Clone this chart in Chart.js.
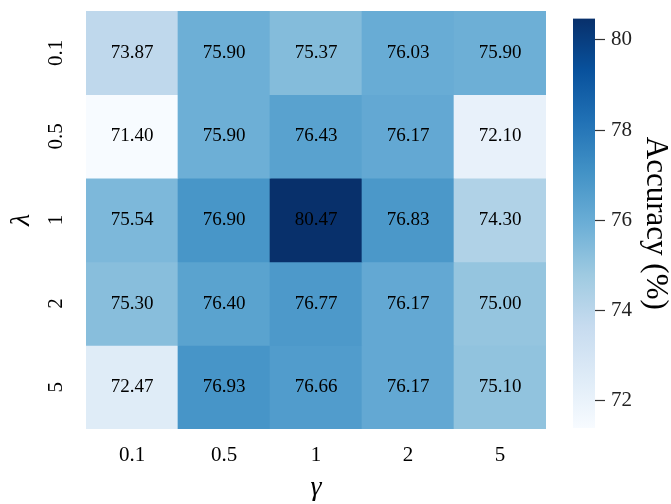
<!DOCTYPE html>
<html>
<head>
<meta charset="utf-8">
<script src="https://cdn.jsdelivr.net/npm/chart.js@4.4.0/dist/chart.umd.min.js"></script>
<style>
  html, body { margin: 0; padding: 0; background: #fff; }
  #wrap { position: relative; width: 671px; height: 504px; }
  #main { position: absolute; left: 0; top: 0; }
  #cbar { position: absolute; left: 540px; top: 0; }
</style>
</head>
<body>
<div id="wrap">
  <div id="main"><canvas id="heat" width="671" height="504"></canvas></div>
  <div id="cbar"><canvas id="bar" width="131" height="504"></canvas></div>
</div>
<script>
// columns (gamma) and rows (lambda)
const gammaLabels = ["0.1", "0.5", "1", "2", "5"];
const lambdaLabels = ["0.1", "0.5", "1", "2", "5"];

// accuracy per lambda row, left to right over gamma
const accLambda01 = [73.87, 75.90, 75.37, 76.03, 75.90];
const accLambda05 = [71.40, 75.90, 76.43, 76.17, 72.10];
const accLambda1 = [75.54, 76.90, 80.47, 76.83, 74.30];
const accLambda2 = [75.30, 76.40, 76.77, 76.17, 75.00];
const accLambda5 = [72.47, 76.93, 76.66, 76.17, 75.10];
const accRows = [accLambda01, accLambda05, accLambda1, accLambda2, accLambda5];

const colorbarTicks = [72, 74, 76, 78, 80];

const SERIF = "'Liberation Serif', 'Times New Roman', serif";
const blues = ["#f7fbff", "#deebf7", "#c6dbef", "#9ecae1", "#6baed6", "#4292c6", "#2171b5", "#08519c", "#08306b"];

const allVals = accRows.flat();
const vmin = Math.min(...allVals);
const vmax = Math.max(...allVals);

function hexRgb(h) {
  return [1, 3, 5].map(i => parseInt(h.slice(i, i + 2), 16));
}

// matplotlib "Blues" as a linear interpolation of its 9 anchors
function bluesColor(v) {
  let t = (v - vmin) / (vmax - vmin);
  t = Math.max(0, Math.min(1, t)) * (blues.length - 1);
  const i = Math.min(Math.floor(t), blues.length - 2);
  const f = t - i;
  const a = hexRgb(blues[i]), b = hexRgb(blues[i + 1]);
  const c = a.map((x, k) => Math.round(x + (b[k] - x) * f));
  return `rgb(${c[0]},${c[1]},${c[2]})`;
}

const cellText = {
  id: "cellText",
  afterDatasetsDraw(chart) {
    const ctx = chart.ctx;
    ctx.save();
    ctx.font = `19px ${SERIF}`;
    ctx.fillStyle = "#000";
    ctx.textAlign = "center";
    ctx.textBaseline = "middle";
    chart.data.datasets.forEach((ds, r) => {
      chart.getDatasetMeta(r).data.forEach((bar, c) => {
        ctx.fillText(ds.acc[c].toFixed(2), bar.x, (bar.y + bar.base) / 2);
      });
    });
    ctx.restore();
  }
};

// rotated lambda tick labels
const yLabels = {
  id: "yLabels",
  afterDraw(chart) {
    const ctx = chart.ctx;
    const ys = chart.scales.y;
    ctx.save();
    ctx.font = `21px ${SERIF}`;
    ctx.fillStyle = "#000";
    ctx.textAlign = "center";
    ctx.textBaseline = "middle";
    lambdaLabels.forEach((t, i) => {
      ctx.save();
      ctx.translate(chart.chartArea.left - 30, ys.getPixelForValue(i));
      ctx.rotate(-Math.PI / 2);
      ctx.fillText(t, 0, 0);
      ctx.restore();
    });
    ctx.restore();
  }
};

new Chart(document.getElementById("heat"), {
  type: "bar",
  data: {
    labels: gammaLabels,
    datasets: accRows.map((row, r) => ({
      label: lambdaLabels[r],
      acc: row,
      data: row.map(() => [r - 0.5, r + 0.5]),
      backgroundColor: row.map(bluesColor),
      borderWidth: 0,
      grouped: false,
      barPercentage: 1,
      categoryPercentage: 1
    }))
  },
  options: {
    responsive: false,
    animation: false,
    layout: { padding: { top: 11, right: 125, bottom: 0, left: 0 } },
    plugins: { legend: { display: false }, tooltip: { enabled: false } },
    scales: {
      x: {
        afterFit(s) { s.height = 75; },
        grid: { display: false, drawTicks: false },
        border: { display: false },
        ticks: { color: "#000", padding: 14, font: { family: SERIF, size: 21 } },
        title: {
          display: true,
          text: "γ",
          color: "#000",
          padding: { top: 0, bottom: 2 },
          font: { family: SERIF, size: 28, style: "italic", lineHeight: 1 }
        }
      },
      y: {
        min: -0.5,
        max: 4.5,
        reverse: true,
        afterFit(s) { s.width = 86; },
        grid: { display: false, drawTicks: false },
        border: { display: false },
        ticks: { display: false },
        title: {
          display: true,
          text: "λ",
          color: "#000",
          padding: { top: 8, bottom: 0 },
          font: { family: SERIF, size: 28, style: "italic", lineHeight: 1 }
        }
      }
    }
  },
  plugins: [cellText, yLabels]
});

// colorbar
new Chart(document.getElementById("bar"), {
  type: "bar",
  data: {
    labels: [""],
    datasets: [{
      data: [[vmin, vmax]],
      borderWidth: 0,
      barPercentage: 1,
      categoryPercentage: 1,
      backgroundColor(ctx) {
        const ca = ctx.chart.chartArea;
        if (!ca) return blues[4];
        const g = ctx.chart.ctx.createLinearGradient(0, ca.bottom, 0, ca.top);
        blues.forEach((c, i) => g.addColorStop(i / (blues.length - 1), c));
        return g;
      }
    }]
  },
  options: {
    responsive: false,
    animation: false,
    layout: { padding: { top: 11, right: 0, bottom: 76, left: 33 } },
    plugins: { legend: { display: false }, tooltip: { enabled: false } },
    scales: {
      x: { display: false },
      y: {
        position: "right",
        min: vmin,
        max: vmax,
        afterFit(s) { s.width = 76; },
        afterBuildTicks(s) { s.ticks = colorbarTicks.map(v => ({ value: v })); },
        grid: { drawOnChartArea: false, drawTicks: true, tickLength: 10, tickColor: "#333", tickWidth: 1.2 },
        border: { display: false },
        ticks: { color: "#222", padding: 6, font: { family: SERIF, size: 21 } },
        title: {
          display: true,
          text: "Accuracy (%)",
          color: "#000",
          padding: { top: 0, bottom: 0 },
          font: { family: SERIF, size: 31, lineHeight: 1 }
        }
      }
    }
  }
});
</script>
</body>
</html>
